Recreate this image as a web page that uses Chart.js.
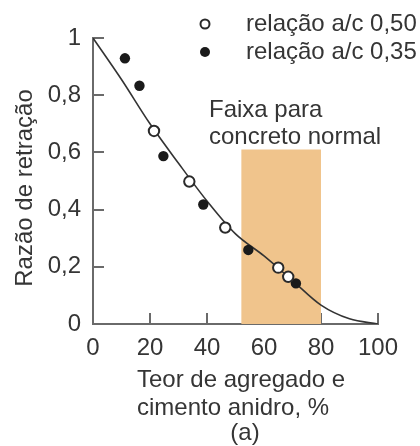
<!DOCTYPE html>
<html>
<head>
<meta charset="utf-8">
<script src="https://cdn.jsdelivr.net/npm/chart.js@4.4.1/dist/chart.umd.min.js"></script>
<style>
  body { margin: 0; background: #fff; }
  canvas { display: block; }
</style>
</head>
<body>
<canvas id="retracao" width="420" height="446"></canvas>
<script>
// fitted curve, read along its length
const curveX = [0, 10, 20, 30, 40, 50, 60, 70, 80, 90, 100];
const curveY = [1, 0.855, 0.70, 0.562, 0.43, 0.315, 0.238, 0.152, 0.066, 0.018, 0];

// a/c 0,50 (open circles)
const openX = [21.4, 33.8, 46.4, 65.0, 68.5];
const openY = [0.675, 0.498, 0.337, 0.197, 0.165];

// a/c 0,35 (filled circles)
const filledX = [11.2, 16.3, 24.7, 38.7, 54.5, 71.2];
const filledY = [0.929, 0.833, 0.587, 0.418, 0.259, 0.142];

// normal concrete range
const bandFrom = 52;
const bandTo = 80;
const bandTop = 0.61;

const xTicks = [0, 20, 40, 60, 80, 100];
const yTicks = [0, 0.2, 0.4, 0.6, 0.8, 1];

const FONT = '"Liberation Sans", Arial, sans-serif';
const TEXT = '#353535';

const pts = (xs, ys) => xs.map((x, i) => ({ x: x, y: ys[i] }));

// inward tick marks, texts and legend
const extras = {
  id: 'extras',
  beforeDatasetsDraw(chart) {
    const { ctx, chartArea: a, scales: { x, y } } = chart;
    ctx.save();
    ctx.strokeStyle = '#6a6a6a';
    ctx.lineWidth = 2;
    ctx.beginPath();
    xTicks.slice(1).forEach(v => {
      const px = Math.round(x.getPixelForValue(v));
      ctx.moveTo(px, a.bottom);
      ctx.lineTo(px, a.bottom - 11);
    });
    yTicks.slice(1).forEach(v => {
      const py = Math.round(y.getPixelForValue(v));
      ctx.moveTo(a.left, py);
      ctx.lineTo(a.left + 11, py);
    });
    ctx.stroke();
    ctx.restore();
  },
  afterDraw(chart) {
    const { ctx } = chart;
    ctx.save();
    ctx.fillStyle = TEXT;
    ctx.font = '24px ' + FONT;
    ctx.textBaseline = 'middle';

    // band label
    ctx.textAlign = 'left';
    ctx.fillText('Faixa para', 209, 110);
    ctx.fillText('concreto normal', 209, 137);

    // x axis title
    ctx.fillText('Teor de agregado e', 137, 380);
    ctx.fillText('cimento anidro, %', 137, 408);
    ctx.textAlign = 'center';
    ctx.fillText('(a)', 245, 433);

    // y axis title
    ctx.save();
    ctx.translate(25, 188);
    ctx.rotate(-Math.PI / 2);
    ctx.fillText('Razão de retração', 0, 0);
    ctx.restore();

    // legend
    ctx.textAlign = 'left';
    ctx.fillText('relação a/c 0,50', 246, 24);
    ctx.fillText('relação a/c 0,35', 246, 52);
    ctx.lineWidth = 2;
    ctx.strokeStyle = '#2a2a2a';
    ctx.fillStyle = '#fff';
    ctx.beginPath();
    ctx.arc(205, 24, 4.5, 0, Math.PI * 2);
    ctx.fill();
    ctx.stroke();
    ctx.fillStyle = '#1a1a1a';
    ctx.beginPath();
    ctx.arc(205, 52, 5, 0, Math.PI * 2);
    ctx.fill();
    ctx.restore();
  }
};

new Chart(document.getElementById('retracao'), {
  type: 'scatter',
  data: {
    datasets: [
      {
        label: 'Faixa para concreto normal',
        type: 'line',
        data: pts([bandFrom, bandTo], [bandTop, bandTop]),
        backgroundColor: '#f0c48c',
        borderWidth: 0,
        pointRadius: 0,
        fill: 'origin',
        order: 4
      },
      {
        label: 'curva',
        type: 'line',
        data: pts(curveX, curveY),
        borderColor: '#333',
        borderWidth: 1.6,
        pointRadius: 0,
        cubicInterpolationMode: 'monotone',
        fill: false,
        order: 3
      },
      {
        label: 'relação a/c 0,35',
        data: pts(filledX, filledY),
        backgroundColor: '#1a1a1a',
        borderColor: '#1a1a1a',
        borderWidth: 0,
        pointRadius: 5.2,
        order: 2
      },
      {
        label: 'relação a/c 0,50',
        data: pts(openX, openY),
        backgroundColor: '#fff',
        borderColor: '#2a2a2a',
        borderWidth: 2,
        pointRadius: 5.2,
        order: 1
      }
    ]
  },
  options: {
    responsive: false,
    animation: false,
    devicePixelRatio: 1,
    layout: { padding: { left: 0, right: 42, top: 38, bottom: 0 } },
    plugins: {
      legend: { display: false },
      tooltip: { enabled: false }
    },
    scales: {
      x: {
        type: 'linear',
        min: 0,
        max: 100,
        afterBuildTicks: s => { s.ticks = xTicks.map(v => ({ value: v })); },
        afterFit: s => { s.height = 122; s.paddingLeft = 0; s.paddingRight = 0; },
        grid: { display: false, drawTicks: false },
        border: { display: true, color: '#6a6a6a', width: 2 },
        ticks: {
          color: TEXT,
          padding: 10,
          maxRotation: 0,
          font: { family: FONT, size: 24 }
        }
      },
      y: {
        type: 'linear',
        min: 0,
        max: 1,
        afterBuildTicks: s => { s.ticks = yTicks.map(v => ({ value: v })); },
        afterFit: s => { s.width = 93; s.paddingTop = 0; s.paddingBottom = 0; },
        grid: { display: false, drawTicks: false },
        border: { display: true, color: '#6a6a6a', width: 2 },
        ticks: {
          color: TEXT,
          padding: 12,
          font: { family: FONT, size: 24 },
          callback: v => String(v).replace('.', ',')
        }
      }
    }
  },
  plugins: [extras]
});
</script>
</body>
</html>
